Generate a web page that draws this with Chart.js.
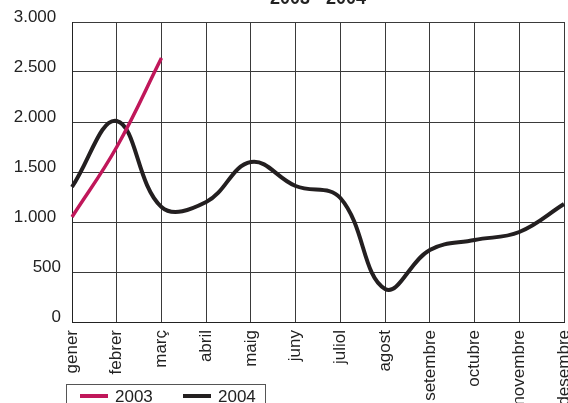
<!DOCTYPE html>
<html>
<head>
<meta charset="utf-8">
<script src="https://cdn.jsdelivr.net/npm/chart.js@4"></script>
<style>
  html, body { margin: 0; padding: 0; background: #fff; }
  #wrap { width: 568px; height: 403px; position: relative; }
</style>
</head>
<body>
<div id="wrap"><canvas id="c" width="568" height="403"></canvas></div>
<script>
const titleText = '2003 - 2004';
const months = ['gener', 'febrer', 'març', 'abril', 'maig', 'juny', 'juliol', 'agost', 'setembre', 'octubre', 'novembre', 'desembre'];
const series2003 = [1050, 1750, 2640, null, null, null, null, null, null, null, null, null];
const series2004 = [1350, 2010, 1150, 1200, 1600, 1360, 1240, 330, 720, 820, 900, 1180];
const yTickValues = [0, 500, 1000, 1500, 2000, 2500, 3000];
const yTickLabels = ['0', '500', '1.000 ', '1.500 ', '2.000 ', '2.500 ', '3.000 '];
const seriesNames = ['2003', '2004'];
const seriesColors = ['#c0175a', '#231f20'];

const FONT = '"Liberation Sans", Arial, Helvetica, sans-serif';

const titlePlugin = {
  id: 'cutTitle',
  afterDraw(chart) {
    const ctx = chart.ctx;
    const a = chart.chartArea;
    ctx.save();
    ctx.font = 'bold 18px ' + FONT;
    ctx.fillStyle = '#222';
    ctx.textAlign = 'center';
    ctx.textBaseline = 'alphabetic';
    ctx.fillText(titleText, (a.left + a.right) / 2, 4);
    ctx.restore();
  }
};

const legendPlugin = {
  id: 'boxLegend',
  afterDraw(chart) {
    const ctx = chart.ctx;
    ctx.save();
    ctx.strokeStyle = '#555';
    ctx.lineWidth = 1;
    ctx.strokeRect(66.5, 384.5, 199, 30);
    ctx.font = '17px ' + FONT;
    ctx.textBaseline = 'middle';
    ctx.textAlign = 'left';
    const starts = [80, 183];
    chart.data.datasets.forEach((ds, i) => {
      const x = starts[i];
      ctx.strokeStyle = ds.borderColor;
      ctx.lineWidth = 4;
      ctx.beginPath();
      ctx.moveTo(x, 396);
      ctx.lineTo(x + 28, 396);
      ctx.stroke();
      ctx.fillStyle = '#222';
      ctx.fillText(ds.label, x + 35, 397);
    });
    ctx.restore();
  }
};

new Chart(document.getElementById('c'), {
  type: 'line',
  data: {
    labels: months,
    datasets: [
      { label: seriesNames[0], data: series2003, borderColor: seriesColors[0], borderWidth: 3.5, tension: 0.4, pointRadius: 0, fill: false, spanGaps: false },
      { label: seriesNames[1], data: series2004, borderColor: seriesColors[1], borderWidth: 4, tension: 0.4, pointRadius: 0, fill: false }
    ]
  },
  options: {
    responsive: false,
    animation: false,
    devicePixelRatio: 1,
    layout: { padding: { top: 22, right: 4, left: 0, bottom: 0 } },
    plugins: {
      legend: { display: false },
      title: { display: false },
      tooltip: { enabled: false }
    },
    scales: {
      x: {
        offset: false,
        grid: { color: '#3a3a3a', lineWidth: 1, drawTicks: false },
        border: { color: '#222', width: 1 },
        ticks: {
          autoSkip: false,
          maxRotation: 90,
          minRotation: 90,
          padding: 8,
          color: '#222',
          font: { family: FONT, size: 17 }
        },
        afterFit(scale) {
          scale.height = 81;
          scale.paddingLeft = 0;
          scale.paddingRight = 0;
        }
      },
      y: {
        min: 0,
        max: 3000,
        afterBuildTicks(scale) {
          scale.ticks = yTickValues.map(v => ({ value: v }));
        },
        grid: { color: '#3a3a3a', lineWidth: 1, drawTicks: false },
        border: { color: '#222', width: 1 },
        ticks: {
          padding: 11,
          labelOffset: -5,
          color: '#222',
          font: { family: FONT, size: 17 },
          callback(value) {
            const i = yTickValues.indexOf(value);
            return i >= 0 ? yTickLabels[i] : '';
          }
        },
        afterFit(scale) {
          scale.width = 72;
          scale.paddingTop = 0;
          scale.paddingBottom = 0;
        }
      }
    }
  },
  plugins: [titlePlugin, legendPlugin]
});
</script>
</body>
</html>
